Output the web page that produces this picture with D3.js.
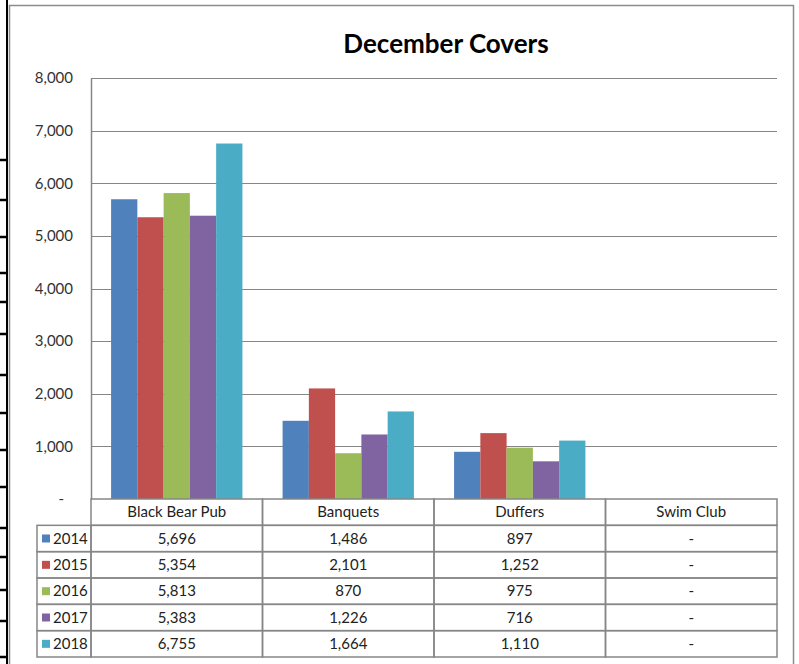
<!DOCTYPE html>
<html>
<head>
<meta charset="utf-8">
<script src="https://cdn.jsdelivr.net/npm/d3@7"></script>
<style>
  html, body { margin: 0; padding: 0; background: #fff; }
  svg { display: block; }
  text { font-family: Lato, "Open Sans", sans-serif; }
</style>
</head>
<body>
<svg id="chart" width="799" height="664"></svg>
<script>
// ---- data ----
const categories = ["Black Bear Pub", "Banquets", "Duffers", "Swim Club"];
const years = ["2014", "2015", "2016", "2017", "2018"];
const values2014 = [5696, 1486, 897, null];
const values2015 = [5354, 2101, 1252, null];
const values2016 = [5813, 870, 975, null];
const values2017 = [5383, 1226, 716, null];
const values2018 = [6755, 1664, 1110, null];
const yTicks = [0, 1000, 2000, 3000, 4000, 5000, 6000, 7000, 8000];
const colors = ["#4F81BD", "#C0504D", "#9BBB59", "#8064A2", "#4BACC6"];
const title = "December Covers";

const seriesValues = [values2014, values2015, values2016, values2017, values2018];
const series = years.map((y, i) => ({ year: y, color: colors[i], values: seriesValues[i] }));

// ---- layout ----
const svg = d3.select("#chart");
const W = 799, H = 664;
const plot = { left: 91, right: 777, top: 78, bottom: 499 };
const tableLeft = 37;
const tableBottom = 657;
const gridColor = "#868686";
const fs = 15;

// left strip artifacts (spreadsheet cell borders)
const stripLines = [160, 200, 237, 273, 302, 334, 375, 413, 450, 487, 528, 557, 590, 621, 657];
svg.append("line").attr("x1", 7).attr("x2", 7).attr("y1", 0).attr("y2", H)
  .attr("stroke", "#000").attr("stroke-width", 2);
svg.selectAll("line.strip").data(stripLines).enter().append("line")
  .attr("class", "strip")
  .attr("x1", 0).attr("x2", 7).attr("y1", d => d).attr("y2", d => d)
  .attr("stroke", "#000").attr("stroke-width", 2.5);

// chart frame
svg.append("rect").attr("x", 9.5).attr("y", 5.5).attr("width", 784).attr("height", 720)
  .attr("fill", "#fff").attr("stroke", "#8c8c8c").attr("stroke-width", 1.5);

// title
svg.append("text").attr("x", 446).attr("y", 53).attr("text-anchor", "middle")
  .attr("font-size", 26).attr("font-weight", 700).attr("fill", "#000")
  .text(title);

// scales
const x0 = d3.scaleBand().domain(categories).range([plot.left, plot.right]).padding(0);
const x1 = d3.scaleBand().domain(years).range([0, x0.bandwidth()]).paddingInner(0).paddingOuter(0.765);
const y = d3.scaleLinear().domain([0, 8000]).range([plot.bottom, plot.top]);

// gridlines
svg.append("g").selectAll("line").data(yTicks.filter(d => d > 0)).enter().append("line")
  .attr("x1", plot.left).attr("x2", plot.right)
  .attr("y1", d => Math.round(y(d)) + 0.5).attr("y2", d => Math.round(y(d)) + 0.5)
  .attr("stroke", gridColor).attr("stroke-width", 1.2);

// y axis
const yAxis = d3.axisLeft(y).tickValues(yTicks).tickSize(0).tickPadding(18)
  .tickFormat(d => d === 0 ? "-" : d3.format(",")(d));
const gy = svg.append("g").attr("transform", `translate(${plot.left},0)`).call(yAxis);
gy.select(".domain").attr("stroke", gridColor).attr("stroke-width", 1.5);
gy.selectAll("text").attr("font-size", fs).attr("fill", "#333")
  .attr("font-family", "Lato, sans-serif");
gy.selectAll(".tick").filter(d => d === 0).select("text").attr("dx", -9);

// bars
const groups = svg.append("g").selectAll("g").data(series).enter().append("g")
  .attr("fill", d => d.color);
groups.selectAll("rect")
  .data(d => categories.map((c, i) => ({ cat: c, year: d.year, v: d.values[i] })).filter(e => e.v != null))
  .enter().append("rect")
  .attr("x", d => x0(d.cat) + x1(d.year))
  .attr("width", x1.bandwidth())
  .attr("y", d => y(d.v))
  .attr("height", d => y(0) - y(d.v));

// data table
const rowH = (tableBottom - plot.bottom) / (years.length + 1);
const tg = svg.append("g");
const fmt = d3.format(",");
// header row (categories)
categories.forEach(c => {
  tg.append("rect").attr("x", x0(c)).attr("y", plot.bottom).attr("width", x0.bandwidth()).attr("height", rowH)
    .attr("fill", "none").attr("stroke", gridColor).attr("stroke-width", 1.5);
  tg.append("text").attr("x", x0(c) + x0.bandwidth() / 2).attr("y", plot.bottom + rowH / 2 + 5)
    .attr("text-anchor", "middle").attr("font-size", fs).attr("fill", "#222").text(c);
});
series.forEach((s, r) => {
  const ry = plot.bottom + rowH * (r + 1);
  tg.append("rect").attr("x", tableLeft).attr("y", ry).attr("width", plot.left - tableLeft).attr("height", rowH)
    .attr("fill", "none").attr("stroke", gridColor).attr("stroke-width", 1.5);
  tg.append("rect").attr("x", tableLeft + 5).attr("y", ry + rowH / 2 - 4).attr("width", 8).attr("height", 8)
    .attr("fill", s.color);
  tg.append("text").attr("x", tableLeft + 16).attr("y", ry + rowH / 2 + 5)
    .attr("font-size", fs).attr("fill", "#222").text(s.year);
  categories.forEach((c, i) => {
    tg.append("rect").attr("x", x0(c)).attr("y", ry).attr("width", x0.bandwidth()).attr("height", rowH)
      .attr("fill", "none").attr("stroke", gridColor).attr("stroke-width", 1.5);
    const v = s.values[i];
    tg.append("text").attr("x", x0(c) + x0.bandwidth() / 2).attr("y", ry + rowH / 2 + 5)
      .attr("text-anchor", "middle").attr("font-size", fs).attr("fill", "#222")
      .text(v == null ? "-" : fmt(v));
  });
});
</script>
</body>
</html>
